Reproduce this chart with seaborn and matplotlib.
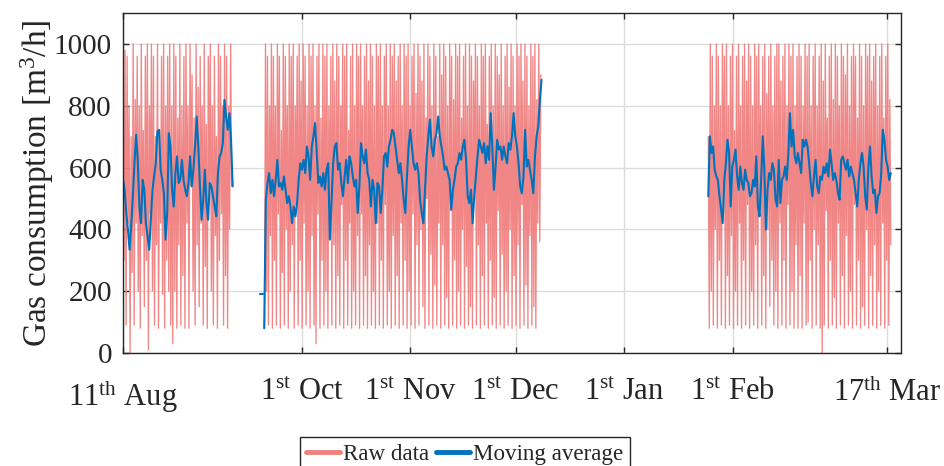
import numpy as np
import pandas as pd
import matplotlib
matplotlib.use("Agg")
import matplotlib.pyplot as plt
from matplotlib.lines import Line2D
import seaborn as sns

# ---------------- data ----------------
start_date = "2018-08-11"
tick_dates = ["2018-08-11", "2018-10-01", "2018-11-01", "2018-12-01",
              "2019-01-01", "2019-02-01", "2019-03-17"]
tick_labels = [r"11$^{\mathrm{th}}$ Aug", r"1$^{\mathrm{st}}$ Oct", r"1$^{\mathrm{st}}$ Nov",
               r"1$^{\mathrm{st}}$ Dec", r"1$^{\mathrm{st}}$ Jan", r"1$^{\mathrm{st}}$ Feb",
               r"17$^{\mathrm{th}}$ Mar"]
x_end_date = "2019-03-21 02:00"

raw_periods = [("2018-08-11 00:00", "2018-09-11 00:00"),
               ("2018-09-20 09:00", "2018-12-08 05:00"),
               ("2019-01-25 00:00", "2019-03-18 02:00")]
ma_periods = [("2018-08-11 00:00", "2018-09-11 07:00"),
              ("2018-09-19 02:00", "2018-09-19 22:00"),
              ("2018-09-20 07:00", "2018-12-08 10:00"),
              ("2019-01-25 00:00", "2019-03-18 02:00")]

raw1 = [1000, 300, 980, 90, 960, 420, 800, 0, 700, 260, 1000, 90, 820, 420, 960, 200,
        800, 80, 1000, 380, 720, 150, 960, 300, 1000, 10, 800, 450, 1000, 200, 960, 90,
        700, 350, 1000, 80, 720, 420, 960, 190, 1000, 80, 800, 300, 960, 200, 1000, 90,
        800, 30, 1000, 200, 960, 80, 760, 350, 1000, 90, 800, 250, 960, 80, 1000, 420,
        800, 80, 1000, 540, 900, 200, 760, 90, 1000, 350, 860, 150, 960, 420, 800, 90,
        1000, 280, 740, 80, 960, 500, 1000, 200, 800, 90, 960, 380, 700, 80, 1000, 300,
        960, 450, 800, 90, 1000, 250, 960, 80, 800, 400, 1000, 540]
raw2 = [80, 1000, 200, 960, 90, 800, 380, 1000, 80, 960, 300, 800, 90, 1000, 450, 960, 80, 720, 260, 1000,
        90, 960, 400, 800, 80, 1000, 200, 960, 350, 1000, 80, 800, 480, 960, 90, 1000, 300, 880, 80, 1000,
        420, 960, 90, 800, 200, 1000, 80, 960, 380, 1000, 90, 800, 30, 960, 450, 1000, 80, 760, 300, 1000,
        90, 960, 200, 1000, 80, 800, 420, 960, 90, 1000, 350, 880, 80, 1000, 250, 960, 90, 800, 480, 1000,
        80, 960, 300, 1000, 90, 720, 420, 960, 80, 1000, 200, 800, 90, 1000, 380, 960, 80, 1000, 450, 800,
        90, 960, 250, 1000, 80, 880, 350, 1000, 90, 960, 200, 800, 80, 1000, 420, 960, 90, 1000, 300, 800,
        80, 960, 480, 1000, 90, 800, 200, 1000, 80, 960, 380, 1000, 90, 880, 250, 960, 80, 1000, 420, 800,
        90, 1000, 300, 960, 80, 1000, 200, 800, 90, 960, 450, 1000, 80, 840, 350, 1000, 90, 960, 400, 880,
        150, 1000, 80, 760, 500, 1000, 90, 960, 320, 800, 80, 1000, 220, 960, 90, 700, 420, 1000, 80, 900,
        350, 1000, 90, 960, 180, 800, 80, 1000, 460, 960, 90, 820, 300, 1000, 80, 960, 200, 1000, 90, 760,
        400, 960, 80, 1000, 280, 800, 90, 1000, 150, 960, 80, 880, 500, 1000, 90, 960, 350, 800, 80, 1000,
        250, 960, 90, 1000, 420, 740, 80, 960, 300, 1000, 90, 800, 180, 1000, 80, 960, 460, 900, 90, 1000,
        320, 800, 80, 960, 200, 1000, 90, 860, 400, 1000, 80, 960, 250, 800, 90, 1000, 350, 960, 80, 1000,
        480, 880, 90, 1000, 220, 960, 80, 800, 380, 1000, 90, 960, 150, 1000, 80, 820, 420, 1000, 360, 900]
raw3 = [700, 80, 1000, 200, 960, 90, 800, 400, 1000, 80, 960, 300, 800, 90, 1000, 450, 960, 80, 1000, 250,
        800, 90, 960, 380, 1000, 80, 720, 200, 960, 90, 1000, 420, 800, 80, 960, 300, 1000, 90, 880, 480,
        1000, 80, 960, 200, 800, 90, 1000, 350, 960, 80, 1000, 450, 800, 90, 960, 250, 1000, 80, 840, 400,
        960, 150, 1000, 300, 800, 90, 960, 200, 1000, 80, 1000, 420, 880, 90, 960, 300, 1000, 80, 800, 480,
        1000, 90, 960, 200, 1000, 80, 800, 350, 960, 80, 1000, 250, 960, 80, 800, 420, 1000, 90, 960, 100,
        1000, 300, 800, 80, 960, 400, 1000, 90, 800, 350, 960, 80, 1000, 0, 880, 90, 1000, 460, 760, 80,
        960, 300, 1000, 90, 820, 180, 1000, 80, 960, 420, 800, 90, 1000, 250, 960, 80, 900, 380, 1000, 90,
        800, 200, 960, 80, 1000, 480, 960, 90, 760, 300, 1000, 80, 960, 150, 800, 90, 1000, 400, 960, 80,
        1000, 250, 880, 90, 960, 350, 1000, 80, 800, 200, 960, 90, 1000, 420, 760, 80, 960, 300, 1000, 90,
        820, 350]

ma1 = [560, 528, 453, 399, 334, 410, 507, 614, 706, 625, 474, 420, 560, 528, 420, 377, 334, 431, 528,
       571, 614, 717, 722, 593, 560, 517, 367, 453, 711, 668, 528, 474, 582, 636, 550, 560, 625, 560,
       528, 507, 550, 636, 539, 593, 668, 765, 668, 539, 431, 496, 593, 485, 431, 550, 539, 507, 474,
       442, 582, 636, 647, 679, 819, 765, 722, 776, 690, 539]
ma_dash = [190, 190]
ma2 = [80, 496, 550, 582, 517, 560, 507, 560, 625, 539, 550, 528, 571, 528, 485, 507, 474, 420, 474,
       442, 485, 560, 614, 593, 625, 582, 668, 636, 560, 668, 701, 744, 647, 550, 571, 539, 582, 528,
       593, 614, 367, 485, 614, 668, 679, 593, 614, 550, 507, 571, 625, 550, 636, 614, 571, 539, 560,
       453, 539, 679, 636, 614, 658, 582, 560, 474, 560, 528, 420, 550, 539, 453, 528, 636, 647, 603,
       668, 690, 722, 711, 668, 625, 582, 614, 560, 496, 453, 571, 668, 722, 668, 614, 593, 614, 582,
       496, 453, 420, 528, 636, 701, 755, 668, 636, 690, 711, 765, 701, 668, 636, 593, 603,
       582, 560, 464, 528, 560, 603, 614, 647, 625, 668, 690, 625, 507, 485, 528, 420, 507, 571, 636,
       690, 668, 647, 679, 614, 668, 625, 776, 668, 528, 603, 690, 658, 668, 625, 668, 636, 614, 679,
       658, 701, 776, 701, 668, 614, 539, 517, 571, 722, 603, 625, 593, 560, 517, 636, 701, 733, 819, 884]
ma3 = [507, 701, 647, 668, 593, 571, 560, 507, 464, 420, 560, 614, 690, 647, 474, 603, 625, 658, 571,
       528, 603, 550, 528, 593, 560, 550, 507, 517, 560, 539, 636, 474, 442, 560, 701, 593, 399, 528,
       582, 560, 614, 593, 496, 474, 625, 485, 560, 571, 603, 560, 647, 776, 668, 722, 636, 614, 647,
       614, 582, 690, 668, 690, 668, 614, 550, 507, 571, 625, 539, 517, 571, 560, 603, 582, 614, 571,
       658, 614, 560, 582, 560, 517, 496, 625, 636, 614, 593, 625, 571, 603, 582, 560, 517, 474, 560,
       614, 647, 603, 507, 464, 603, 668, 571, 517, 528, 453, 507, 517, 582, 722, 690, 625, 603, 560, 582]

yticks = [0, 200, 400, 600, 800, 1000]
ylabel = r"Gas consumption [m$^{\mathrm{3}}$/h]"
series_names = ["Raw data", "Moving average"]
raw_color = "#F08080"
ma_color = "#0072BD"

# ---------------- build tables ----------------
t0 = pd.Timestamp(start_date)


def to_days(ts):
    return (pd.Timestamp(ts) - t0) / pd.Timedelta(days=1)


def build(periods, lists):
    frames = []
    for k, ((a, b), vals) in enumerate(zip(periods, lists)):
        times = pd.date_range(a, b, periods=len(vals))
        days = (times - t0) / pd.Timedelta(days=1)
        frames.append(pd.DataFrame({"day": days, "value": vals, "seg": k}))
    return pd.concat(frames, ignore_index=True)


raw_df = build(raw_periods, [raw1, raw2, raw3])
ma_df = build(ma_periods, [ma1, ma_dash, ma2, ma3])

# ---------------- plot ----------------
sns.set_theme(style="white")
plt.rcParams["font.family"] = ["Liberation Serif", "DejaVu Serif"]
plt.rcParams["mathtext.fontset"] = "custom"
plt.rcParams["mathtext.rm"] = "Liberation Serif"
plt.rcParams["mathtext.it"] = "Liberation Serif:italic"
plt.rcParams["mathtext.bf"] = "Liberation Serif:bold"

fig = plt.figure(figsize=(9.44, 4.66), dpi=100)
ax = fig.add_axes([0.1303, 0.2425, 0.8245, 0.7296])

sns.lineplot(data=raw_df, x="day", y="value", units="seg", estimator=None, sort=False,
             color=raw_color, lw=0.95, alpha=0.95, legend=False, ax=ax)
sns.lineplot(data=ma_df, x="day", y="value", units="seg", estimator=None, sort=False,
             color=ma_color, lw=1.5, legend=False, ax=ax)

ax.set_xlim(0, to_days(x_end_date))
ax.set_ylim(0, 1100)
ax.set_xticks([to_days(d) for d in tick_dates])
ax.set_xticklabels(tick_labels)
ax.set_yticks(yticks)
ax.set_xlabel("")
ax.set_ylabel(ylabel, fontsize=24)
ax.yaxis.set_label_coords(-0.086, 0.5)

ax.grid(True, color="#DCDCDC", lw=1.0)
ax.set_axisbelow(True)
ax.tick_params(direction="in", length=4.5, width=1.0, color="#262626",
               top=True, right=True, bottom=True, left=True)
ax.tick_params(axis="x", pad=18, labelsize=22)
ax.tick_params(axis="y", pad=8, labelsize=21)
for s in ax.spines.values():
    s.set_visible(True)
    s.set_color("#262626")
    s.set_linewidth(1.0)

handles = [Line2D([], [], color=raw_color, lw=3.5),
           Line2D([], [], color=ma_color, lw=3.5)]
leg = fig.legend(handles, series_names, loc="upper center", ncol=2,
                 bbox_to_anchor=(465 / 944, 1 - 437 / 466), bbox_transform=fig.transFigure,
                 fontsize=16.6, frameon=True, fancybox=False, framealpha=1,
                 edgecolor="#262626", handlelength=1.45, handletextpad=0.15,
                 columnspacing=0.3, borderpad=0.3, borderaxespad=0)
leg.get_frame().set_linewidth(1.0)

fig.savefig("out.png", dpi=100)
